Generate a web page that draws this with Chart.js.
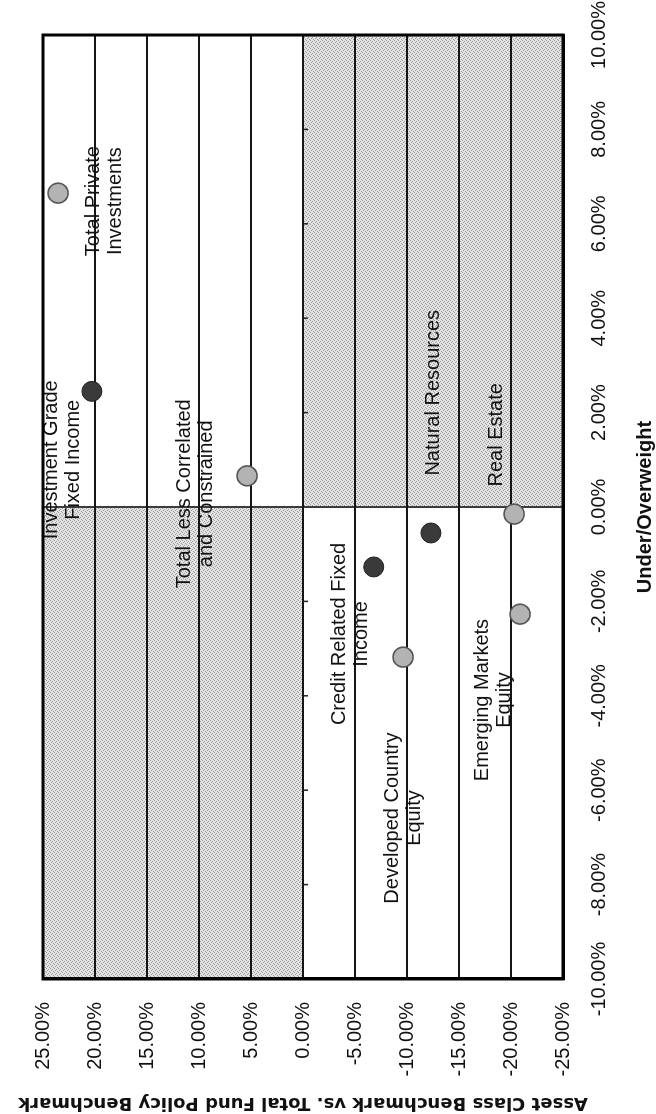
<!DOCTYPE html>
<html>
<head>
<meta charset="utf-8">
<script src="https://cdn.jsdelivr.net/npm/chart.js@4.4.0/dist/chart.umd.min.js"></script>
<style>
  html, body { margin: 0; padding: 0; background: #fff; }
  body { width: 656px; height: 1114px; overflow: hidden; position: relative; }
  #wrap {
    position: absolute; left: 0; top: 0;
    width: 1114px; height: 656px;
    transform-origin: 0 0;
    transform: translateY(1114px) rotate(-90deg);
  }
</style>
</head>
<body>
<div id="wrap"><canvas id="scatter" width="1114" height="656"></canvas></div>
<script>
// dark markers
let darkNames = ["Investment Grade Fixed Income", "Natural Resources", "Credit Related Fixed Income"];
let darkX = [2.45, -0.55, -1.27];
let darkY = [20.3, -12.3, -6.8];

// light markers
let lightNames = ["Total Private Investments", "Total Less Correlated and Constrained", "Real Estate",
  "Developed Country Equity", "Emerging Markets Equity"];
let lightX = [6.65, 0.66, -0.15, -3.18, -2.27];
let lightY = [23.55, 5.38, -20.3, -9.62, -20.87];

// text labels on the plot (data units)
let labelLines = [
  ["Investment Grade", "Fixed Income"],
  ["Total Private", "Investments"],
  ["Total Less Correlated", "and Constrained"],
  ["Natural Resources"],
  ["Real Estate"],
  ["Credit Related Fixed", "Income"],
  ["Developed Country", "Equity"],
  ["Emerging Markets", "Equity"]
];
let labelX = [1.0, 6.48, 0.28, 2.42, 1.53, -2.69, -6.59, -4.09];
let labelY = [23.08, 19.13, 10.29, -12.5, -18.56, -4.52, -9.62, -18.27];

let xTicks = [-10, -8, -6, -4, -2, 0, 2, 4, 6, 8, 10];

const FONT = "'Liberation Sans', Arial, sans-serif";

function pct(v) {
  return Number(v).toFixed(2) + "%";
}

function toPoints(xs, ys) {
  return xs.map((x, i) => ({ x: x, y: ys[i] }));
}

// grey dotted fill, like the scanned shading
function makePattern() {
  let c = document.createElement("canvas");
  c.width = 4;
  c.height = 4;
  let g = c.getContext("2d");
  g.fillStyle = "#e4e4e4";
  g.fillRect(0, 0, 4, 4);
  g.fillStyle = "#9a9a9a";
  [[0, 0], [2, 1], [1, 2], [3, 3]].forEach((p) => g.fillRect(p[0], p[1], 1, 1));
  return g.createPattern(c, "repeat");
}

const quadrants = {
  id: "quadrants",
  beforeDraw(chart) {
    let ctx = chart.ctx;
    let xs = chart.scales.x;
    let ys = chart.scales.y;
    let a = chart.chartArea;
    let x0 = xs.getPixelForValue(0);
    let y0 = ys.getPixelForValue(0);
    ctx.save();
    ctx.fillStyle = makePattern();
    ctx.fillRect(a.left, a.top, x0 - a.left, y0 - a.top);
    ctx.fillRect(x0, y0, a.right - x0, a.bottom - y0);
    ctx.restore();
  },
  afterDatasetsDraw(chart) {
    let ctx = chart.ctx;
    let xs = chart.scales.x;
    let ys = chart.scales.y;
    let a = chart.chartArea;
    let y0 = ys.getPixelForValue(0);
    ctx.save();
    // small tick marks on the zero line
    ctx.strokeStyle = "#222";
    ctx.lineWidth = 1.5;
    xTicks.forEach((t) => {
      if (t === -10 || t === 10 || t === 0) return;
      let px = xs.getPixelForValue(t);
      ctx.beginPath();
      ctx.moveTo(px, y0);
      ctx.lineTo(px, y0 + 5);
      ctx.stroke();
    });
    // labels
    ctx.fillStyle = "#111";
    ctx.font = "20px " + FONT;
    ctx.textAlign = "center";
    ctx.textBaseline = "middle";
    labelLines.forEach((lines, i) => {
      let cx = xs.getPixelForValue(labelX[i]);
      let cy = ys.getPixelForValue(labelY[i]);
      let lh = 22;
      let start = cy - (lines.length - 1) * lh / 2;
      lines.forEach((s, j) => ctx.fillText(s, cx, start + j * lh));
    });
    // frame
    ctx.strokeStyle = "#000";
    ctx.lineWidth = 3;
    ctx.strokeRect(a.left, a.top, a.right - a.left, a.bottom - a.top);
    ctx.restore();
  }
};

new Chart(document.getElementById("scatter"), {
  type: "scatter",
  data: {
    datasets: [
      {
        label: "dark",
        data: toPoints(darkX, darkY),
        pointRadius: 10,
        pointBackgroundColor: "#3a3a3a",
        pointBorderColor: "#1e1e1e",
        pointBorderWidth: 1
      },
      {
        label: "light",
        data: toPoints(lightX, lightY),
        pointRadius: 10,
        pointBackgroundColor: "#b3b3b3",
        pointBorderColor: "#555",
        pointBorderWidth: 1.5
      }
    ]
  },
  options: {
    responsive: false,
    animation: false,
    devicePixelRatio: 1,
    layout: { padding: { top: 43, right: 35, left: 0, bottom: 0 } },
    plugins: { legend: { display: false }, tooltip: { enabled: false } },
    scales: {
      x: {
        type: "linear",
        min: -10,
        max: 10,
        afterFit: (s) => {
          s.height = 93;
          s.paddingLeft = 0;
          s.paddingRight = 0;
        },
        afterBuildTicks: (s) => { s.ticks = xTicks.map((v) => ({ value: v })); },
        ticks: { callback: pct, color: "#111", padding: 24, font: { family: FONT, size: 20 }, maxRotation: 0 },
        grid: {
          drawTicks: false,
          lineWidth: 2,
          color: (c) => (c.tick && c.tick.value === 0 ? "#3c3c3c" : "rgba(0,0,0,0)")
        },
        border: { display: true, color: "#000", width: 3 },
        title: {
          display: true,
          text: "Under/Overweight",
          color: "#111",
          padding: { top: 0, bottom: 0 },
          font: { family: FONT, size: 20, weight: "bold", lineHeight: 1.1 }
        }
      },
      y: {
        min: -25,
        max: 25,
        afterFit: (s) => {
          s.width = 135;
          s.paddingTop = 0;
          s.paddingBottom = 0;
        },
        ticks: { stepSize: 5, callback: pct, color: "#111", padding: 23, font: { family: FONT, size: 20 } },
        grid: { drawTicks: false, lineWidth: 2, color: "#151515" },
        border: { display: true, color: "#000", width: 3 },
        title: {
          display: true,
          text: "Asset Class Benchmark vs. Total Fund Policy Benchmark",
          color: "#111",
          padding: { top: 1, bottom: 0 },
          font: { family: "'DejaVu Sans', sans-serif", size: 18, weight: "bold", lineHeight: 1.2 }
        }
      }
    }
  },
  plugins: [quadrants]
});
</script>
</body>
</html>
